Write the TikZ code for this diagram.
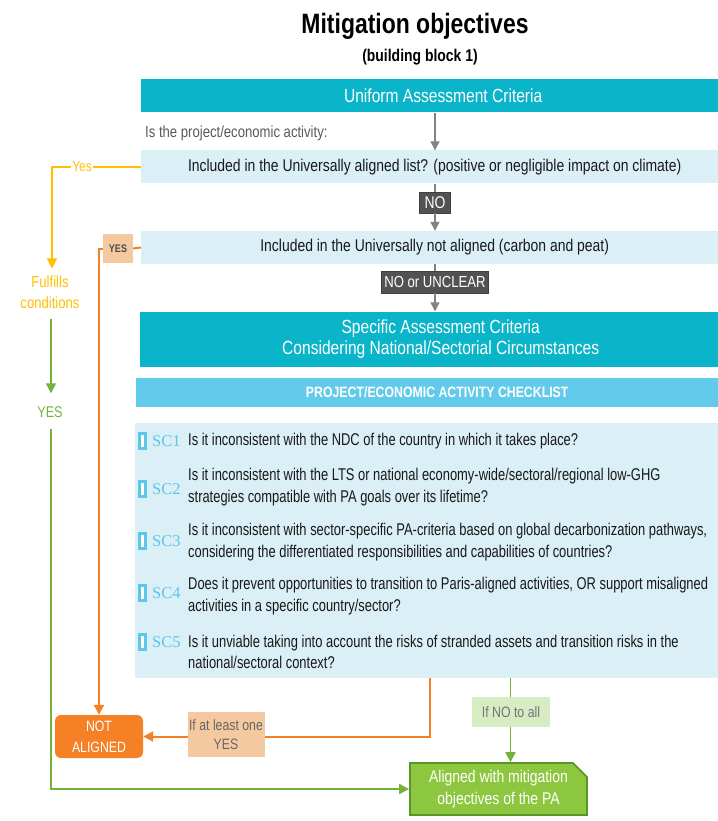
\documentclass[tikz,border=0pt]{standalone}
\usepackage{fontspec}
\setmainfont{Liberation Sans}[FakeStretch=0.82]
\newfontfamily\narrowsans{Liberation Sans}[FakeStretch=0.76]
\newfontfamily\scserif{Liberation Serif}
\usetikzlibrary{arrows.meta,shapes.misc,calc}
\definecolor{tealbar}{RGB}{11,181,201}
\definecolor{rowblue}{RGB}{218,239,246}
\definecolor{hdrblue}{RGB}{98,202,234}
\definecolor{scblue}{RGB}{92,198,235}
\definecolor{orangeA}{RGB}{245,128,37}
\definecolor{peach}{RGB}{244,201,160}
\definecolor{yellowA}{RGB}{255,192,0}
\definecolor{greenL}{RGB}{118,178,58}
\definecolor{greenF}{RGB}{141,198,63}
\definecolor{greenB}{RGB}{88,150,40}
\definecolor{greenP}{RGB}{216,236,196}
\definecolor{darklab}{RGB}{82,82,82}
\definecolor{grayln}{RGB}{130,130,130}
\definecolor{txt}{RGB}{25,25,25}
\newcommand\fsz[2]{\fontsize{#1}{#2}\selectfont}
\begin{document}
\begin{tikzpicture}[x=1pt,y=-1pt,
  bigbar/.style={fill=tealbar,text=white,inner sep=0pt,anchor=west,font=\fsz{19}{21}},
  rowbox/.style={fill=rowblue,text=txt,inner sep=0pt,anchor=west,minimum height=33pt,font=\fsz{17}{20}},
  darktag/.style={fill=darklab,draw=black!75,line width=0.6pt,text=white,inner ysep=0pt,minimum height=21pt},
  scmark/.style={draw=scblue,line width=2.6pt,fill=white,minimum width=6.4pt,minimum height=15.4pt,inner sep=0pt},
  sclab/.style={text=scblue,anchor=west,inner sep=0pt,font=\scserif\fsz{16.5}{20}},
  sctext/.style={text=txt,anchor=west,align=left,inner sep=0pt,font=\narrowsans\fsz{17}{21.5}},
  garrow/.style={draw=grayln,line width=1.2pt,-{Triangle[width=9pt,length=9pt]}},
  oline/.style={draw=orangeA,line width=2pt},
  yline/.style={draw=yellowA,line width=1.6pt},
  gline/.style={draw=greenL,line width=1.6pt},
  tip/.style={-{Triangle[width=10pt,length=10pt]}}
]
\useasboundingbox (0,0) rectangle (717,821);
% titles
\node[font=\bfseries\fsz{28}{32}] (title) at (415,26) {Mitigation objectives};
\node[font=\bfseries\fsz{17}{20}] (sub) at (420,57) {(building block 1)};
% uniform criteria bar
\node[bigbar,minimum width=604pt,minimum height=33pt] (uac) at (141,96) {Uniform Assessment Criteria};
\node[anchor=west,inner sep=0pt,text=black!65,font=\fsz{16}{18}] (isq) at (145,133) {Is the project/economic activity:};
% rows
\node[rowbox,minimum width=587pt] (box1) at (141,167) {Included in the Universally aligned list? (positive or negligible impact on climate)};
\node[rowbox,minimum width=587pt] (box2) at (141,247.5) {Included in the Universally not aligned (carbon and peat)};
\node[bigbar,minimum width=601pt,minimum height=55pt,align=center,font=\fsz{19}{21.5}] (box3) at (140,339) {Specific Assessment Criteria\\Considering National/Sectorial Circumstances};
\node[fill=hdrblue,text=white,inner sep=0pt,anchor=west,minimum width=602pt,minimum height=29pt,font=\bfseries\fsz{15}{16}] (hdr) at (136,392) {PROJECT/ECONOMIC ACTIVITY CHECKLIST};
\node[fill=rowblue,inner sep=0pt,anchor=north west,minimum width=600pt,minimum height=255pt] (body) at (135,423) {};
% tags
\coordinate (cx) at (435,0);
\node[darktag,inner xsep=5pt,font=\fsz{17}{18}] (no) at (435,202.5) {NO};
\node[darktag,inner xsep=3pt,minimum height=22pt,font=\fsz{16}{18}] (nou) at (435,282) {NO or UNCLEAR};
% checklist items
\node[scmark] (m1) at (142.5,441) {};
\node[sclab] (l1) at (152,441) {SC1};
\node[sctext] (t1) at (188,441) {Is it inconsistent with the NDC of the country in which it takes place?};
\node[scmark] (m2) at (142.5,489) {};
\node[sclab] (l2) at (152,489) {SC2};
\node[sctext] (t2) at (188,487) {Is it inconsistent with the LTS or national economy-wide/sectoral/regional low-GHG\\strategies compatible with PA goals over its lifetime?};
\node[scmark] (m3) at (142.5,541) {};
\node[sclab] (l3) at (152,541) {SC3};
\node[sctext] (t3) at (188,542) {Is it inconsistent with sector-specific PA-criteria based on global decarbonization pathways,\\considering the differentiated responsibilities and capabilities of countries?};
\node[scmark] (m4) at (142.5,593) {};
\node[sclab] (l4) at (152,593) {SC4};
\node[sctext] (t4) at (188,596) {Does it prevent opportunities to transition to Paris-aligned activities, OR support misaligned\\activities in a specific country/sector?};
\node[scmark] (m5) at (142.5,642) {};
\node[sclab] (l5) at (152,642) {SC5};
\node[sctext] (t5) at (188,652) {Is it unviable taking into account the risks of stranded assets and transition risks in the\\national/sectoral context?};
% left-side labels
\node[text=yellowA,inner sep=1pt,fill=white,font=\fsz{14.5}{16}] (yesy) at (82,167) {Yes};
\node[text=yellowA,align=center,inner sep=0pt,font=\fsz{16}{21}] (ful) at (50,292) {Fulfills\\conditions};
\node[text=greenL,inner sep=0pt,font=\fsz{15.5}{18}] (yesg) at (50,412) {YES};
\node[fill=peach,text=black!70,minimum width=30pt,minimum height=29pt,inner sep=0pt,font=\bfseries\fsz{11}{13}] (yeso) at (118,248.5) {YES};
% outcomes
\node[fill=orangeA,rounded corners=6pt,text=white,align=center,minimum width=88pt,minimum height=43pt,inner sep=0pt,font=\fsz{15}{21}] (notal) at (99,736.5) {NOT\\ALIGNED};
\node[chamfered rectangle,chamfered rectangle corners=north east,chamfered rectangle xsep=7pt,chamfered rectangle ysep=7pt,fill=greenF,draw=greenB,line width=1.6pt,text=white,align=center,minimum width=177pt,minimum height=52pt,inner sep=0pt,font=\fsz{17}{22}] (aligned) at (498.5,789) {Aligned with mitigation\\objectives of the PA};
% connectors
\draw[garrow] (uac.south -| cx) -- (box1.north -| cx);
\draw[draw=grayln,line width=1.2pt] (box1.south -| cx) -- (no.north);
\draw[garrow] (no.south) -- (box2.north -| cx);
\draw[draw=grayln,line width=1.2pt] (box2.south -| cx) -- (nou.north);
\draw[garrow] (nou.south) -- (box3.north -| cx);
\draw[yline] (box1.west) -- (yesy.east);
\draw[yline,tip] (yesy.west) -| ([xshift=2pt,yshift=7pt]ful.north);
\draw[gline,tip] ([xshift=1pt,yshift=-10pt]ful.south) -- ([xshift=1pt,yshift=13pt]yesg.north);
\draw[gline,tip] ([xshift=1pt,yshift=-11pt]yesg.south) |- (aligned.west);
\draw[oline] (box2.west) -- (yeso.east);
\draw[oline,tip] (yeso.west) -| (notal.north);
\coordinate (ox) at (430,0);
\coordinate (gx) at (510.5,0);
\draw[oline,tip] (body.south -| ox) |- (notal.east);
\draw[gline,tip] (body.south -| gx) -- (aligned.north -| gx);
\node[fill=peach,text=black!60,align=center,minimum width=77pt,minimum height=45pt,inner sep=0pt,font=\fsz{15}{19}] (lab1) at (226,734.5) {If at least one\\YES};
\node[fill=greenP,text=black!55,minimum width=78pt,minimum height=30pt,inner sep=0pt,font=\fsz{15}{16}] (lab2) at (511,712) {If NO to all};
\end{tikzpicture}
\end{document}
